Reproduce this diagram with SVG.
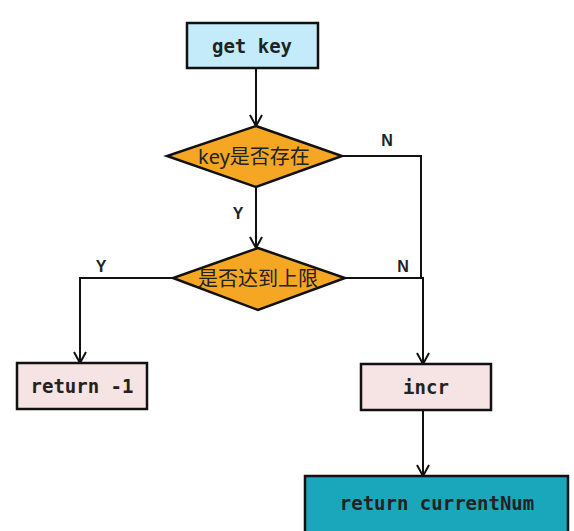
<svg xmlns="http://www.w3.org/2000/svg" width="574" height="531" viewBox="0 0 574 531">
<defs>
<marker id="arr" markerWidth="14" markerHeight="14" refX="12" refY="7" orient="auto" markerUnits="userSpaceOnUse">
<path d="M1,1 L12,7 L1,13" fill="none" stroke="#111" stroke-width="2"/>
</marker>
<style>
.box{stroke:#111;stroke-width:2.5}
.dia{fill:#f5a623;stroke:#111;stroke-width:2.5}
.mono{font-family:"DejaVu Sans Mono","Liberation Mono",monospace;font-size:19px;font-weight:bold;fill:#222;text-anchor:middle;dominant-baseline:central}
.cn{font-family:"Noto Sans","Noto Sans CJK SC",sans-serif;font-size:20px;fill:#222;text-anchor:middle;dominant-baseline:central}
.lbl{font-family:"Liberation Sans",sans-serif;font-size:16px;font-weight:bold;fill:#222;text-anchor:middle;dominant-baseline:central}
.ln{fill:none;stroke:#111;stroke-width:2}
</style>
</defs>
<rect width="574" height="531" fill="#ffffff"/>
<g id="connectors">
<line class="ln" x1="256" y1="68" x2="256" y2="126" marker-end="url(#arr)"/>
<line class="ln" x1="256" y1="187" x2="256" y2="248" marker-end="url(#arr)"/>
<polyline class="ln" points="342,156 421,156 421,278"/>
<polyline class="ln" points="345,278 423,278 423,364" marker-end="url(#arr)"/>
<polyline class="ln" points="173,278 80,278 80,363" marker-end="url(#arr)"/>
<line class="ln" x1="423" y1="410" x2="423" y2="476" marker-end="url(#arr)"/>
<text class="lbl" x="387" y="140">N</text>
<text class="lbl" x="238" y="213">Y</text>
<text class="lbl" x="101" y="266">Y</text>
<text class="lbl" x="403" y="266">N</text>
</g>
<g id="get-key">
<rect class="box" x="187" y="23" width="131" height="45" fill="#c3ebfa"/>
<text class="mono" x="252" y="46">get key</text>
</g>
<g id="key-exists">
<polygon class="dia" points="256,126 342,156 256,187 167,156"/>
<text class="cn" x="254" y="156">key是否存在</text>
</g>
<g id="limit-reached">
<polygon class="dia" points="258,248 345,278 258,310 173,278"/>
<text class="cn" x="258" y="278">是否达到上限</text>
</g>
<g id="return-minus-1">
<rect class="box" x="17" y="363" width="130" height="46" fill="#f6e3e3"/>
<text class="mono" x="82" y="386">return -1</text>
</g>
<g id="incr">
<rect class="box" x="361" y="364" width="130" height="46" fill="#f6e3e3"/>
<text class="mono" x="426" y="387">incr</text>
</g>
<g id="return-currentNum">
<rect class="box" x="305" y="476" width="263" height="60" fill="#1aa6bb"/>
<text class="mono" x="437" y="503">return currentNum</text>
</g>
</svg>
